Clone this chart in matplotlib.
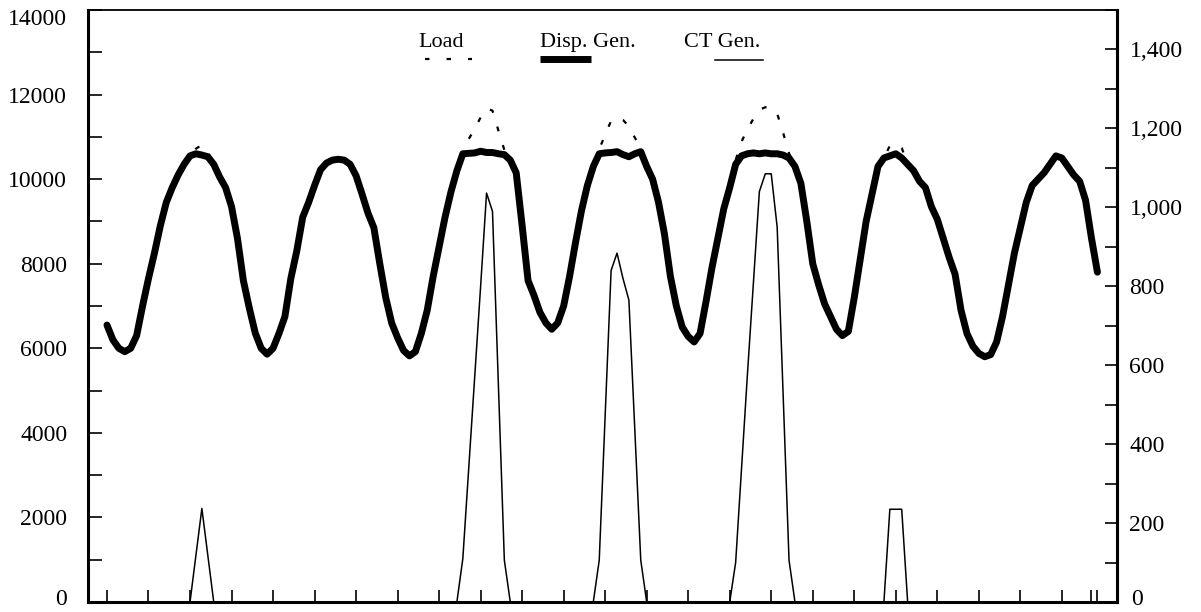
import numpy as np
import matplotlib
matplotlib.use("Agg")
import matplotlib.pyplot as plt
from matplotlib.ticker import MultipleLocator, FuncFormatter, NullFormatter
from matplotlib.lines import Line2D

plt.rcParams["font.family"] = ["Liberation Serif", "DejaVu Serif"]

# Hourly dispatchable generation over one week (MW, left axis)
disp_gen = [
    6550, 6200, 6000, 5920, 6000, 6300, 7000, 7650, 8250, 8900, 9450, 9800,
    10100, 10350, 10550, 10600, 10570, 10530, 10350, 10050, 9800, 9350, 8600, 7600,
    6950, 6360, 6000, 5860, 6000, 6350, 6750, 7650, 8300, 9100, 9450, 9850,
    10220, 10380, 10450, 10470, 10450, 10350, 10080, 9650, 9200, 8850, 8000, 7200,
    6600, 6250, 5950, 5820, 5920, 6350, 6900, 7700, 8400, 9100, 9700, 10200,
    10600, 10610, 10620, 10660, 10630, 10630, 10600, 10580, 10450, 10150, 8900, 7600,
    7250, 6850, 6600, 6450, 6600, 7000, 7700, 8500, 9250, 9850, 10300, 10600,
    10620, 10630, 10650, 10580, 10530, 10600, 10650, 10300, 10000, 9450, 8700, 7700,
    7000, 6500, 6280, 6150, 6350, 7100, 7900, 8600, 9300, 9800, 10350, 10550,
    10600, 10620, 10600, 10620, 10600, 10600, 10570, 10500, 10300, 9900, 9000, 8000,
    7500, 7050, 6750, 6450, 6300, 6400, 7200, 8100, 9000, 9650, 10300, 10500,
    10550, 10600, 10500, 10350, 10200, 9950, 9800, 9350, 9050, 8600, 8150, 7750,
    6900, 6350, 6050, 5880, 5800, 5850, 6150, 6750, 7500, 8250, 8850, 9450,
    9850, 10000, 10150, 10350, 10550, 10500, 10300, 10100, 9950, 9500, 8600, 7800,
]

# Hourly combustion-turbine generation (MW, right axis)
ct_gen = [
    0, 0, 0, 0, 0, 0, 0, 0, 0, 0, 0, 0,
    0, 0, 0, 118, 237, 118, 0, 0, 0, 0, 0, 0,
    0, 0, 0, 0, 0, 0, 0, 0, 0, 0, 0, 0,
    0, 0, 0, 0, 0, 0, 0, 0, 0, 0, 0, 0,
    0, 0, 0, 0, 0, 0, 0, 0, 0, 0, 0, 0,
    110, 340, 570, 800, 1036, 990, 550, 106, 0, 0, 0, 0,
    0, 0, 0, 0, 0, 0, 0, 0, 0, 0, 0, 106,
    470, 840, 884, 820, 765, 435, 106, 0, 0, 0, 0, 0,
    0, 0, 0, 0, 0, 0, 0, 0, 0, 0, 100, 340,
    580, 810, 1040, 1085, 1085, 950, 530, 106, 0, 0, 0, 0,
    0, 0, 0, 0, 0, 0, 0, 0, 0, 0, 0, 0,
    235, 235, 235, 0, 0, 0, 0, 0, 0, 0, 0, 0,
    0, 0, 0, 0, 0, 0, 0, 0, 0, 0, 0, 0,
    0, 0, 0, 0, 0, 0, 0, 0, 0, 0, 0, 0,
]

# Load equals dispatchable generation except in the hours where CTs run
load_peak_hours = {
    15: 10720, 16: 10810, 17: 10650,
    60: 10720, 61: 10950, 62: 11190, 63: 11460, 64: 11670, 65: 11620, 66: 11150, 67: 10690,
    83: 10710, 84: 11050, 85: 11380, 86: 11450, 87: 11400, 88: 11250, 89: 10980, 90: 10760,
    106: 10450, 107: 10890, 108: 11180, 109: 11430, 110: 11640, 111: 11700, 112: 11690,
    113: 11550, 114: 11100, 115: 10610,
    132: 10790, 133: 10840, 134: 10740,
}
load = list(disp_gen)
for hour, mw in load_peak_hours.items():
    load[hour] = mw

hours = np.arange(len(disp_gen))
x_ticks = list(range(0, 162, 7)) + [166, 167]

LABEL_SIZE = 17

fig = plt.figure(figsize=(12.01, 6.12), dpi=100)
ax = fig.add_axes([88 / 1201, 10 / 612, 1029 / 1201, 592 / 612])
ax2 = ax.twinx()

ax.plot(hours, load, color="black", lw=1.6, linestyle=(0, (2.2, 6.5)), zorder=2)
ax.plot(hours, disp_gen, color="black", lw=5.0, solid_capstyle="round",
        solid_joinstyle="round", zorder=3)
ax2.plot(hours, ct_gen, color="black", lw=1.1, zorder=3)

ax.set_xlim(-3.2, 170.3)
ax.set_ylim(0, 14000)
ax2.set_ylim(0, 1500)

# Left axis; the end labels (0 and 14000) are placed separately so they sit
# inside the figure edge
ax.yaxis.set_major_locator(MultipleLocator(2000))
ax.yaxis.set_minor_locator(MultipleLocator(1000))
ax.yaxis.set_major_formatter(
    FuncFormatter(lambda v, p: "" if v >= 14000 or v <= 0 else f"{v:.0f}"))
ax.yaxis.set_minor_formatter(NullFormatter())
ax.tick_params(axis="y", which="both", direction="in", length=10, width=1.2,
               labelsize=LABEL_SIZE, pad=15)
ax.annotate("14000", xy=(0, 14000), xycoords=("axes fraction", "data"),
            xytext=(-15, -7), textcoords="offset points", ha="right", va="center",
            fontsize=LABEL_SIZE, annotation_clip=False)
ax.annotate("0", xy=(0, 0), xycoords=("axes fraction", "data"),
            xytext=(-15, 2), textcoords="offset points", ha="right", va="center",
            fontsize=LABEL_SIZE, annotation_clip=False)

# Bottom axis
ax.set_xticks(x_ticks)
ax.tick_params(axis="x", which="both", direction="in", length=9, width=1.2,
               labelbottom=False, top=False)

# Right axis
ax2.yaxis.set_major_locator(MultipleLocator(200))
ax2.yaxis.set_minor_locator(MultipleLocator(100))
ax2.yaxis.set_major_formatter(FuncFormatter(lambda v, p: "" if v <= 0 else f"{v:,.0f}"))
ax2.yaxis.set_minor_formatter(NullFormatter())
ax2.tick_params(axis="y", which="both", direction="in", length=9, width=1.2,
                labelsize=LABEL_SIZE, pad=9)
ax2.annotate("0", xy=(1, 0), xycoords=("axes fraction", "data"),
             xytext=(10, 2), textcoords="offset points", ha="left", va="center",
             fontsize=LABEL_SIZE, annotation_clip=False)

for name in ("left", "bottom", "right"):
    ax.spines[name].set_linewidth(2.2)
ax.spines["top"].set_linewidth(1.3)
for name in ("left", "bottom", "top"):
    ax2.spines[name].set_visible(False)
ax2.spines["right"].set_linewidth(2.2)

# Legend: labels with line samples underneath
tr = ax.transAxes
ax.text(0.343, 0.9375, "Load", transform=tr, ha="center", va="baseline", fontsize=16)
ax.text(0.4854, 0.9375, "Disp. Gen.", transform=tr, ha="center", va="baseline", fontsize=16)
ax.text(0.6161, 0.9375, "CT Gen.", transform=tr, ha="center", va="baseline", fontsize=16)
ax.add_line(Line2D([0.3275, 0.3732], [0.917, 0.917], transform=tr, color="black",
                   lw=1.6, linestyle=(0, (2.0, 7.7))))
ax.add_line(Line2D([0.439, 0.489], [0.918, 0.918], transform=tr, color="black",
                   lw=5.0, solid_capstyle="butt"))
ax.add_line(Line2D([0.6093, 0.6560], [0.9155, 0.9155], transform=tr, color="black",
                   lw=1.1))

fig.savefig("out.png", dpi=100)
